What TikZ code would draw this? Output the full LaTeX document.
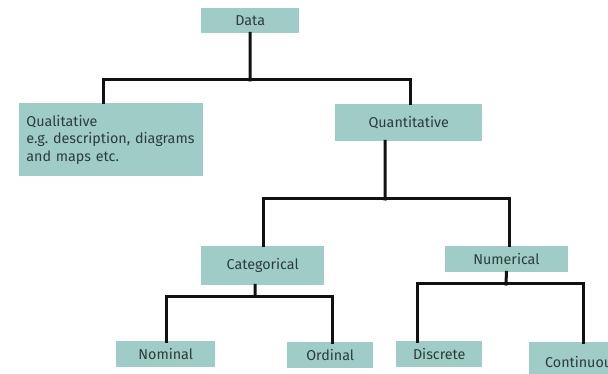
\documentclass[tikz,border=0pt]{standalone}
\usepackage{fontspec}
\setmainfont{Fira Sans}
\definecolor{boxfill}{HTML}{9FCCC7}
\definecolor{boxtext}{HTML}{2E3B3B}
\definecolor{linecol}{HTML}{111111}
\begin{document}
\frenchspacing
\begin{tikzpicture}[x=1pt,y=-1pt,
  box/.style={fill=boxfill,draw=none,text=boxtext,inner sep=0pt,anchor=north west,font=\fontsize{14.3}{17.5}\selectfont},
  conn/.style={draw=linecol,line width=3pt,line cap=rect}]
\clip (0,0) rectangle (608,374);
\useasboundingbox (0,0) rectangle (608,374);
\fill[white] (0,0) rectangle (608,374);
% boxes
\node[box,minimum width=184.5pt,minimum height=73pt,text width=169pt,align=left,inner xsep=7.5pt] (qual) at (18.5,103) {Qualitative\\e.g. description, diagrams\\and maps etc.};
\node[box,minimum width=98pt,minimum height=25pt] (data) at (201,8) {Data};
\node[box,minimum width=147pt,minimum height=37pt] (quant) at (335,104) {Quantitative};
\node[box,minimum width=123pt,minimum height=39pt] (cat) at (201,246) {Categorical};
\node[box,minimum width=123.5pt,minimum height=26pt] (num) at (444.5,246) {Numerical};
\node[box,minimum width=99pt,minimum height=26pt] (nom) at (116,341) {Nominal};
\node[box,minimum width=86pt,minimum height=26pt] (ord) at (287,342) {Ordinal};
\node[box,minimum width=86pt,minimum height=26pt] (dis) at (396,341) {Discrete};
\node[box,minimum width=98pt,minimum height=40pt,text width=88pt,align=left] (con) at (529,342) {\hspace*{11pt}Continuous};
% junctions
\coordinate (j1) at (250,80);
\coordinate (j2) at (385,199);
\coordinate (j3) at (255,296);
\coordinate (j4) at (506,284);
% connectors
\draw[conn] (data.south) -- (j1);
\draw[conn] ([xshift=-7.3pt]qual.north) |- (j1) -| ([xshift=1.5pt]quant.north);
\draw[conn] ([xshift=-23.5pt]quant.south) -- (j2);
\draw[conn] ([xshift=0.5pt]cat.north) |- (j2) -| ([xshift=3pt]num.north);
\draw[conn] ([xshift=-7.5pt]cat.south) -- (j3);
\draw[conn] ([xshift=1.2pt]nom.north) |- (j3) -| ([xshift=2.6pt]ord.north);
\draw[conn] (num.south) -- (j4);
\draw[conn] ([xshift=-21.5pt]dis.north) |- (j4) -| ([xshift=5pt]con.north);
\end{tikzpicture}
\end{document}
